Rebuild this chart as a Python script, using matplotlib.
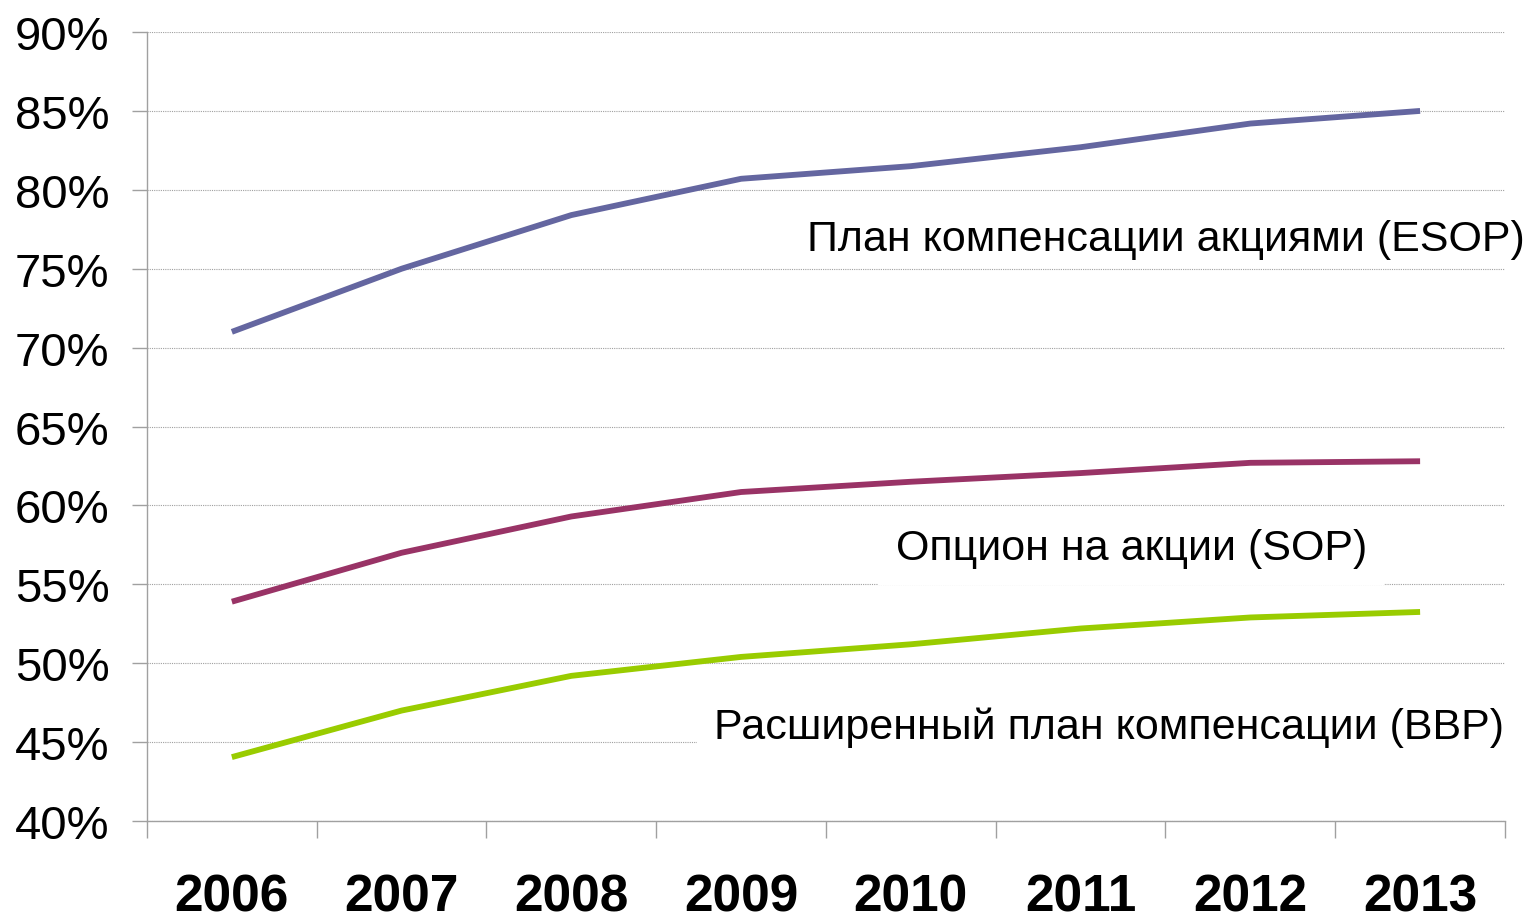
import matplotlib
matplotlib.use("Agg")
import matplotlib.pyplot as plt
from matplotlib.ticker import FixedLocator, FuncFormatter

years = ["2006", "2007", "2008", "2009", "2010", "2011", "2012", "2013"]
esop = [71.0, 75.0, 78.4, 80.7, 81.5, 82.7, 84.2, 85.0]
sop = [53.9, 57.0, 59.3, 60.85, 61.5, 62.05, 62.7, 62.8]
bbp = [44.05, 47.0, 49.2, 50.4, 51.2, 52.2, 52.9, 53.25]

plt.rcParams["font.family"] = ["Liberation Sans", "DejaVu Sans"]

fig = plt.figure(figsize=(15.31, 9.2), dpi=100)
ax = fig.add_axes([0.096, 0.1065, 0.887, 0.8576])

xs = [i + 0.5 for i in range(len(years))]
ax.plot(xs, esop, color="#6466A0", lw=4.2, solid_capstyle="butt", zorder=3)
ax.plot(xs, sop, color="#993366", lw=4.2, solid_capstyle="butt", zorder=3)
ax.plot(xs, bbp, color="#99CC00", lw=4.2, solid_capstyle="butt", zorder=3)

ax.set_xlim(0, len(years))
ax.set_ylim(40, 90)

ax.yaxis.set_major_locator(FixedLocator(range(40, 91, 5)))
ax.yaxis.set_major_formatter(FuncFormatter(lambda v, p: f"{v:.0f}%"))
ax.tick_params(axis="y", length=11, width=1, color="#A0A0A0", pad=16,
               labelsize=34)

ax.set_xticks(xs)
ax.set_xticklabels(years, fontsize=37, fontweight="bold")
ax.set_xticks(range(len(years) + 1), minor=True)
ax.tick_params(axis="x", which="major", length=0, pad=37)
ax.tick_params(axis="x", which="minor", length=12, width=1, color="#A0A0A0")

ax.grid(axis="y", color="#A0A0A0", lw=0.8, ls=(0, (1, 1)), zorder=1)
for s in ("top", "right"):
    ax.spines[s].set_visible(False)
for s in ("left", "bottom"):
    ax.spines[s].set_color("#A0A0A0")
    ax.spines[s].set_linewidth(1)

box = dict(boxstyle="square,pad=0.4", fc="white", ec="none")
ax.text(3.89, 76.9, "План компенсации акциями (ESOP)", fontsize=31,
        va="center", ha="left", zorder=2)
ax.text(4.41, 57.3, "Опцион на акции (SOP)", fontsize=31,
        va="center", ha="left", zorder=2, bbox=box)
ax.text(3.34, 45.96, "Расширенный план компенсации (BBP)", fontsize=31,
        va="center", ha="left", zorder=2, bbox=box)

fig.savefig("out.png", dpi=100)
